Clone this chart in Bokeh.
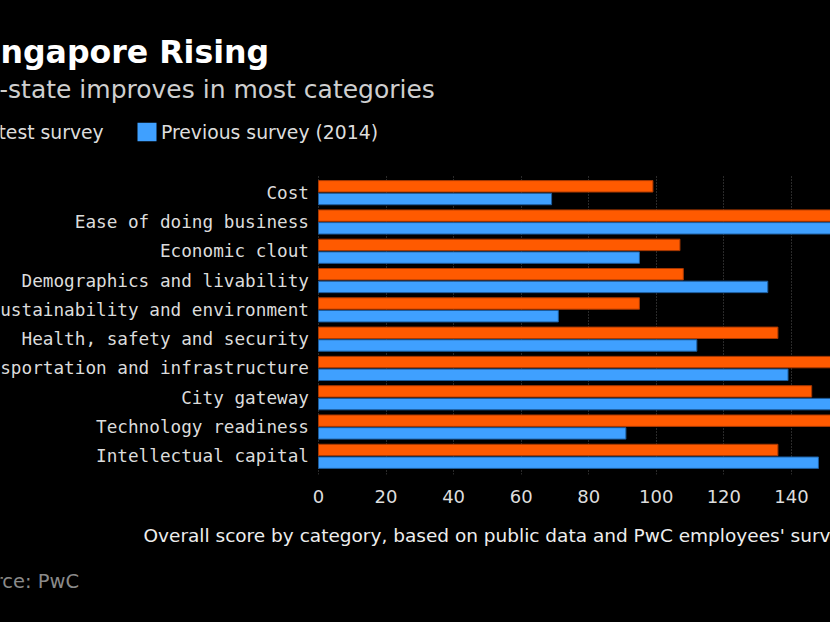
from bokeh.plotting import figure
from bokeh.models import (ColumnDataSource, FactorRange, Range1d, Label,
                          BoxAnnotation, FixedTicker)
from bokeh.transform import dodge
from bokeh.core.properties import value
from bokeh.embed import file_html
from bokeh.resources import INLINE

categories = ["Cost", "Ease of doing business", "Economic clout",
              "Demographics and livability", "Sustainability and environment",
              "Health, safety and security", "Transportation and infrastructure",
              "City gateway", "Technology readiness", "Intellectual capital"]
latest = [99, 168, 107, 108, 95, 136, 158, 146, 160, 136]
previous = [69, 165, 95, 133, 71, 112, 139, 160, 91, 148]
ticks = [0, 20, 40, 60, 80, 100, 120, 140, 160]
series_names = ["Latest survey", "Previous survey (2014)"]

title_text = "Singapore Rising"
subtitle_text = "City-state improves in most categories"
xlabel_text = "Overall score by category, based on public data and PwC employees' survey"
source_text = "Source: PwC"

ORANGE = "#ff5a00"
ORANGE_EDGE = "#a83800"
BLUE = "#3fa0ff"
BLUE_EDGE = "#1d5c9c"

src = ColumnDataSource(dict(cat=categories, latest=latest, previous=previous))

W, H = 830, 622
FT, FB = 174, 148          # frame top / bottom borders
X0 = 318                   # canvas x of value 0
PXU = 3.378                # pixels per unit

# ---- main chart -------------------------------------------------------
p = figure(width=W, height=H, output_backend="svg", toolbar_location=None,
           y_range=FactorRange(factors=categories[::-1], range_padding=0.12,
                               range_padding_units="absolute"),
           x_range=Range1d(-X0 / PXU, (W - X0) / PXU), y_axis_location=None,
           min_border_left=0, min_border_right=0, min_border_top=FT,
           min_border_bottom=FB,
           background_fill_color="black", border_fill_color="black",
           outline_line_color=None)
p.styles = {"position": "fixed", "left": "0px", "top": "0px", "z-index": "0",
            "background-color": "black"}

p.hbar(y=dodge("cat", 0.217, range=p.y_range), right="latest", left=0,
       height=0.39, source=src, fill_color=ORANGE, line_color=ORANGE_EDGE,
       line_width=1)
p.hbar(y=dodge("cat", -0.217, range=p.y_range), right="previous", left=0,
       height=0.39, source=src, fill_color=BLUE, line_color=BLUE_EDGE,
       line_width=1)

p.text(x=0, y="cat", text="cat", source=src, x_offset=-9.5,
       text_align="right", text_baseline="middle",
       text_font=value("DejaVu Sans Mono"), text_font_size="17.7px",
       text_color="#dcdcdc")

p.xaxis.ticker = FixedTicker(ticks=ticks)
p.xaxis.axis_line_color = None
p.xaxis.major_tick_line_color = None
p.xaxis.minor_tick_line_color = None
p.xaxis.major_label_standoff = 9
p.xaxis.major_label_text_color = "#dddddd"
p.xaxis.major_label_text_font = "DejaVu Sans"
p.xaxis.major_label_text_font_size = "18px"
p.xgrid.grid_line_color = "#555555"
p.xgrid.grid_line_dash = "1 2"
p.xgrid.grid_line_width = 1
p.ygrid.grid_line_color = None

# ---- text overlay (page-pixel coordinates) ----------------------------
t = figure(width=W, height=H, output_backend="svg", toolbar_location=None,
           x_range=Range1d(0, W), y_range=Range1d(H, 0),
           x_axis_location=None, y_axis_location=None,
           min_border_left=0, min_border_right=0, min_border_top=0,
           min_border_bottom=0, background_fill_alpha=0, border_fill_alpha=0,
           outline_line_color=None)
t.grid.visible = False
t.styles = {"position": "fixed", "left": "0px", "top": "0px", "z-index": "1",
            "pointer-events": "none"}

def page_label(x, y, text, font, size, color, style="normal"):
    t.add_layout(Label(x=x, y=y, text=text, text_font=font, text_font_size=size,
                       text_color=color, text_font_style=style,
                       text_align="left", text_baseline="alphabetic"))

page_label(-33.6, 51.5, title_text, "DejaVu Sans", "31.6px", "white", "bold")
page_label(-50, 88.5, subtitle_text, "DejaVu Sans", "25px", "#cfcfcf")
page_label(143, 534.6, xlabel_text, "DejaVu Sans", "18.5px", "#eeeeee")
page_label(-42.5, 581.1, source_text, "DejaVu Sans", "19.5px", "#8a8a8a")

# legend keys
t.add_layout(BoxAnnotation(left=-49, right=-30, top=122.3, bottom=140.7,
                           fill_color=ORANGE, fill_alpha=1, line_color=None))
t.add_layout(BoxAnnotation(left=137, right=156, top=122.3, bottom=140.7,
                           fill_color=BLUE, fill_alpha=1, line_color=None))
page_label(-24, 132.2, series_names[0], "DejaVu Sans", "18.8px", "#dddddd")
page_label(160.5, 132.2, series_names[1], "DejaVu Sans", "18.8px", "#dddddd")

open("out.html", "w").write(file_html([p, t], INLINE))
